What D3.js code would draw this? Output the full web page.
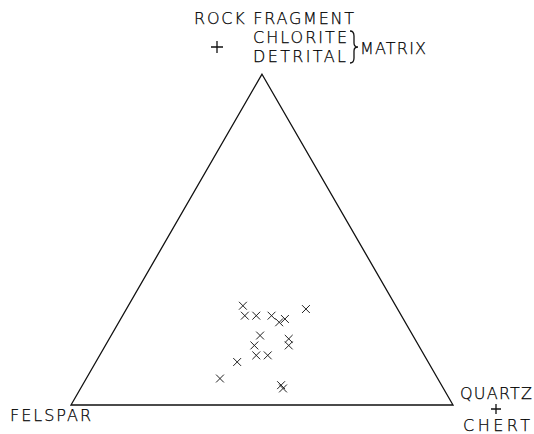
<!DOCTYPE html>
<html>
<head>
	<title>Sandstone composition</title>
	<script src="https://d3js.org/d3.v7.min.js"></script>
	<style type="text/css">
		body {
			margin: 0;
			background: #fff;
		}

		svg {
			display: block;
		}

		.label {
			font-family: "DejaVu Sans", sans-serif;
			font-weight: 200;
			font-size: 16px;
			fill: #000;
			stroke: #000;
			stroke-width: 0.25;
		}

		.frame {
			fill: none;
			stroke: #111;
			stroke-width: 1.3;
		}

		.sample {
			fill: none;
			stroke: #222;
			stroke-width: 1;
		}
	</style>
</head>
<body>

<div id="chart"></div>

<script>
	// percentages (quartz + chert, felspar, rock fragment + matrix)
	var quartz  = [30, 32, 35, 39, 42, 43, 47, 39, 47, 39, 48, 41, 44, 37, 35, 52, 53];
	var felspar = [40, 41, 38, 34, 33, 31, 24, 40, 33, 43, 34, 44, 41, 50, 57, 42, 42];
	var rockFrag = [30, 27, 27, 27, 25, 26, 29, 21, 20, 18, 18, 15, 15, 13, 8, 6, 5];

	var width = 534, height = 434;

	var svg = d3.select("#chart").append("svg")
		.attr("width", width)
		.attr("height", height);

	// ternary layout: rock fragment on the vertical, quartz to the right
	var left = 71, right = 453, base = 405;
	var apexY = base - (right - left) * Math.sqrt(3) / 2;

	var y = d3.scaleLinear().domain([0, 100]).range([base, apexY]);
	var x = d3.scaleLinear().domain([0, 100]).range([left, right]);

	var project = function(q, f, r) {
		var total = q + f + r;
		q = q / total * 100;
		r = r / total * 100;
		return [x(q + r / 2), y(r)];
	};

	var corners = [project(0, 0, 100), project(0, 100, 0), project(100, 0, 0)];

	svg.append("path")
		.attr("class", "frame")
		.attr("d", d3.line()(corners) + "Z");

	var samples = quartz.map(function(q, i) {
		return project(q, felspar[i], rockFrag[i]);
	});

	svg.selectAll(".sample")
		.data(samples)
		.enter()
		.append("path")
		.attr("class", "sample")
		.attr("d", d3.symbol(d3.symbolX, 42))
		.attr("transform", function(d) { return "translate(" + d[0] + "," + d[1] + ")"; });

	// corner labels
	var labels = [
		{text: "ROCK FRAGMENT", x: 194, y: 24, len: 160},
		{text: "CHLORITE", x: 253, y: 43, len: 94},
		{text: "DETRITAL", x: 253, y: 62, len: 93},
		{text: "MATRIX", x: 360, y: 54, len: 66},
		{text: "FELSPAR", x: 10, y: 421, len: 81},
		{text: "QUARTZ", x: 460, y: 399, len: 72},
		{text: "CHERT", x: 463, y: 431, len: 67}
	];

	svg.selectAll(".label")
		.data(labels)
		.enter()
		.append("text")
		.attr("class", "label")
		.attr("x", function(d) { return d.x; })
		.attr("y", function(d) { return d.y; })
		.attr("textLength", function(d) { return d.len; })
		.attr("lengthAdjust", "spacing")
		.text(function(d) { return d.text; });

	// the two "+" joining the names
	var plusSigns = [[217, 47, 6], [496, 409, 5]];
	svg.selectAll(".plus")
		.data(plusSigns)
		.enter()
		.append("path")
		.attr("class", "frame plus")
		.attr("stroke-width", 1.1)
		.attr("d", function(d) {
			return "M" + (d[0] - d[2]) + "," + d[1] + "H" + (d[0] + d[2]) +
				"M" + d[0] + "," + (d[1] - d[2]) + "V" + (d[1] + d[2]);
		});

	// brace grouping chlorite and detrital
	var bx = 350, braceTop = 31, braceBottom = 63, mid = (braceTop + braceBottom) / 2;
	var brace = d3.path();
	brace.moveTo(bx, braceTop);
	brace.quadraticCurveTo(bx + 4, braceTop, bx + 4, braceTop + 5);
	brace.lineTo(bx + 4, mid - 4);
	brace.quadraticCurveTo(bx + 4, mid, bx + 8, mid);
	brace.quadraticCurveTo(bx + 4, mid, bx + 4, mid + 4);
	brace.lineTo(bx + 4, braceBottom - 5);
	brace.quadraticCurveTo(bx + 4, braceBottom, bx, braceBottom);

	svg.append("path")
		.attr("class", "frame")
		.attr("stroke-width", 1.1)
		.attr("d", brace.toString());
</script>

</body>
</html>
